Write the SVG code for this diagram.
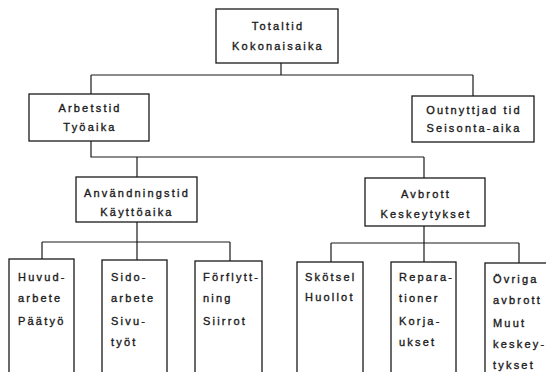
<svg xmlns="http://www.w3.org/2000/svg" width="546" height="372" viewBox="0 0 546 372">
  <style>
    .box { fill: #ffffff; stroke: #1a1a1a; stroke-width: 1.3; }
    .wire { fill: none; stroke: #1a1a1a; stroke-width: 1.2; }
    text { font-family: "Liberation Sans", Arial, sans-serif; font-size: 11px; letter-spacing: 2.2px; fill: #1a1a1a; stroke: #1a1a1a; stroke-width: 0.35px; }
    .c { text-anchor: middle; }
  </style>
  <rect width="546" height="372" fill="#ffffff"/>

  <!-- tree connectors -->
  <g id="connectors">
    <path class="wire" d="M281 63 V75 M91 75 H473 M91 75 V94 M473 75 V96"/>
    <path class="wire" d="M91 141 V157 H424 M137 157 V177 M424 157 V178"/>
    <path class="wire" d="M137 222 V242 M42 242 H230 M42 242 V259 M137 242 V260 M230 242 V261"/>
    <path class="wire" d="M424 226 V243 M331 243 H519 M331 243 V262 M424 243 V262 M519 243 V263"/>
  </g>

  <!-- level 0 -->
  <g id="totaltid">
    <rect class="box" x="216" y="9" width="122" height="54"/>
    <text class="c" x="278" y="30">Totaltid</text>
    <text class="c" x="278" y="50">Kokonaisaika</text>
  </g>

  <!-- level 1 -->
  <g id="arbetstid">
    <rect class="box" x="29" y="94" width="120" height="47"/>
    <text class="c" x="90" y="112">Arbetstid</text>
    <text class="c" x="90" y="131">Työaika</text>
  </g>
  <g id="outnyttjad">
    <rect class="box" x="412" y="96" width="122" height="46"/>
    <text class="c" x="474" y="114">Outnyttjad tid</text>
    <text class="c" x="474" y="132">Seisonta-aika</text>
  </g>

  <!-- level 2 -->
  <g id="anvandningstid">
    <rect class="box" x="76" y="177" width="121" height="45"/>
    <text class="c" x="137" y="197">Användningstid</text>
    <text class="c" x="137" y="216">Käyttöaika</text>
  </g>
  <g id="avbrott">
    <rect class="box" x="365" y="178" width="120" height="48"/>
    <text class="c" x="426" y="198">Avbrott</text>
    <text class="c" x="426" y="218">Keskeytykset</text>
  </g>

  <!-- level 3, open at the bottom edge -->
  <g id="huvudarbete">
    <rect class="box" x="9" y="259" width="65" height="120"/>
    <text x="18" y="281">Huvud-</text>
    <text x="18" y="302">arbete</text>
    <text x="18" y="325">Päätyö</text>
  </g>
  <g id="sidoarbete">
    <rect class="box" x="102" y="260" width="65" height="120"/>
    <text x="111" y="281">Sido-</text>
    <text x="111" y="302">arbete</text>
    <text x="111" y="325">Sivu-</text>
    <text x="111" y="346">työt</text>
  </g>
  <g id="forflyttning">
    <rect class="box" x="195" y="261" width="67" height="120"/>
    <text x="203" y="281">Förflytt-</text>
    <text x="203" y="302">ning</text>
    <text x="203" y="325">Siirrot</text>
  </g>
  <g id="skotsel">
    <rect class="box" x="297" y="262" width="66" height="120"/>
    <text x="305" y="281">Skötsel</text>
    <text x="305" y="301">Huollot</text>
  </g>
  <g id="reparationer">
    <rect class="box" x="391" y="262" width="65" height="120"/>
    <text x="399" y="281">Repara-</text>
    <text x="399" y="302">tioner</text>
    <text x="399" y="325">Korja-</text>
    <text x="399" y="346">ukset</text>
  </g>
  <g id="ovriga">
    <rect class="box" x="485" y="263" width="70" height="120"/>
    <text x="493" y="283">Övriga</text>
    <text x="493" y="304">avbrott</text>
    <text x="493" y="327">Muut</text>
    <text x="493" y="348">keskey-</text>
    <text x="493" y="369">tykset</text>
  </g>
</svg>
